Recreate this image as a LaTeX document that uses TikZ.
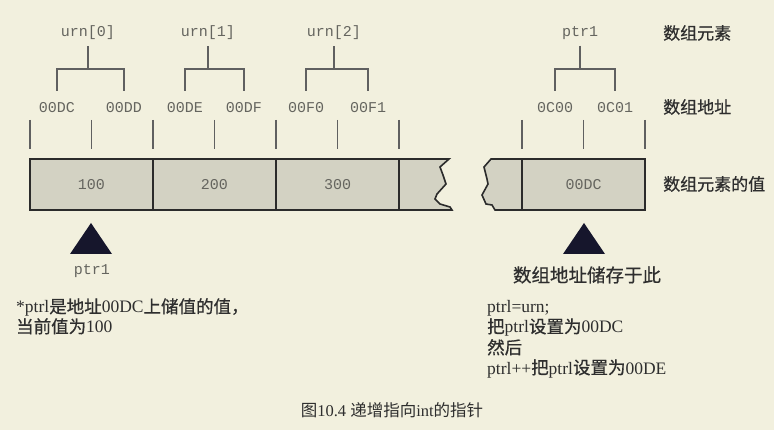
\documentclass[tikz,border=0pt]{standalone}
\usepackage{fontspec}
\setmainfont{Liberation Serif}
\setmonofont{Liberation Mono}
\newfontfamily\cjk[FakeBold=0.6]{Noto Sans CJK SC}
\newfontfamily\cjklight{Noto Sans CJK SC}
\usepackage{tikz}
\usetikzlibrary{calc}

\definecolor{paper}{HTML}{F2F0DE}
\definecolor{cellfill}{HTML}{D3D2C3}
\definecolor{edge}{HTML}{2B2B2B}
\definecolor{bracket}{HTML}{606060}
\definecolor{labeltext}{HTML}{65655F}
\definecolor{notetext}{HTML}{2E2E2E}
\definecolor{marker}{HTML}{16162C}
\newcommand{\zh}[1]{{\cjk #1}}

\tikzset{
  mono/.style={font=\fontsize{15}{15}\selectfont\ttfamily, text=labeltext, inner sep=0pt},
  side/.style={font=\fontsize{17}{17}\selectfont\cjk, text=notetext, inner sep=0pt, anchor=west},
  note/.style={font=\fontsize{17.5}{20}\selectfont, text=notetext, inner sep=0pt, anchor=base west},
  cell/.style={draw=edge, fill=cellfill, line width=1.6pt, minimum width=123pt,
    minimum height=51pt, inner sep=0pt, font=\fontsize{15}{15}\selectfont\ttfamily, text=labeltext},
  brace/.style={draw=bracket, line width=1.3pt},
  tick/.style={draw=bracket, line width=1.3pt},
}

\begin{document}
\begin{tikzpicture}[x=1pt, y=-1pt]
\fill [paper] (0, 0) rectangle (774, 430);
\useasboundingbox (0, 0) rectangle (774, 430);

% element names
\node [mono] (u0) at (88, 33) {urn[0]};
\node [mono] (u1) at (208, 33) {urn[1]};
\node [mono] (u2) at (334, 33) {urn[2]};
\node [mono] (p) at (580, 33) {ptr1};

% addresses
\node [mono] (a0) at (57, 108) {00DC};
\node [mono] (a1) at (124, 108) {00DD};
\node [mono] (a2) at (185, 108) {00DE};
\node [mono] (a3) at (244, 108) {00DF};
\node [mono] (a4) at (306, 108) {00F0};
\node [mono] (a5) at (368, 108) {00F1};
\node [mono] (a6) at (555, 108) {0C00};
\node [mono] (a7) at (615, 108) {0C01};

% bracket joints
\coordinate (j0) at (88, 69);
\coordinate (j1) at (208, 69);
\coordinate (j2) at (334, 69);
\coordinate (j3) at (580, 69);

\draw [brace, shorten <=6pt] (u0.south) -- (j0);
\draw [brace, shorten <=6pt] (u1.south) -- (j1);
\draw [brace, shorten <=6pt] (u2.south) -- (j2);
\draw [brace, shorten <=6pt] (p.south) -- (j3);
\draw [brace] ([yshift=12pt]a0.north) |- (j0) -| ([yshift=12pt]a1.north);
\draw [brace] ([yshift=12pt]a2.north) |- (j1) -| ([yshift=12pt]a3.north);
\draw [brace] ([yshift=12pt]a4.north) |- (j2) -| ([yshift=12pt]a5.north);
\draw [brace] ([yshift=12pt]a6.north) |- (j3) -| ([yshift=12pt]a7.north);

% byte ticks
\foreach \x in {30, 91.5, 153, 214.5, 276, 337.5, 399, 522, 583.5, 645}
  \draw [tick] (\x, 120) -- (\x, 149);

% broken ends
\filldraw [fill=cellfill, draw=edge, line width=1.6pt, line join=miter]
  (399, 159) -- (449, 159) -- (440, 167) -- (443, 175) -- (446, 184)
  -- (437, 194) -- (435, 199) -- (440, 204) -- (450, 207) -- (452, 210)
  -- (399, 210) -- cycle;
\filldraw [fill=cellfill, draw=edge, line width=1.6pt, line join=miter]
  (522, 159) -- (491, 159) -- (484, 167) -- (487, 179) -- (488, 184)
  -- (482, 195) -- (486, 204) -- (492, 205) -- (495, 210)
  -- (522, 210) -- cycle;

% values
\node [cell] (v0) at (91.5, 184.5) {100};
\node [cell] (v1) at (214.5, 184.5) {200};
\node [cell] (v2) at (337.5, 184.5) {300};
\node [cell] (v3) at (583.5, 184.5) {00DC};

% row names
\node [side] (r0) at (663, 33) {数组元素};
\node [side] (r1) at (663, 107) {数组地址};
\node [side] (r2) at (663, 184) {数组元素的值};

% pointers
\fill [marker] (91, 223) -- (112, 254) -- (70, 254) -- cycle;
\fill [marker] (584, 223) -- (605, 254) -- (563, 254) -- cycle;
\node [mono] (pl) at (92, 271) {ptr1};
\node [font=\fontsize{18.5}{19}\selectfont\cjk, text=notetext, inner sep=0pt] (pr) at (587, 275) {数组地址储存于此};

% notes
\node [note] (n0) at (16, 313) {*ptrl\zh{是地址}00DC\zh{上储值的值，}};
\node [note] (n1) at (16, 333) {\zh{当前值为}100};
\node [note] (m0) at (487, 313) {ptrl=urn;};
\node [note] (m1) at (487, 333) {\zh{把}ptrl\zh{设置为}00DC};
\node [note] (m2) at (487, 354) {\zh{然后}};
\node [note] (m3) at (487, 374) {ptrl++\zh{把}ptrl\zh{设置为}00DE};

% caption
\node [font=\fontsize{16.5}{16.5}\selectfont, text=notetext, inner sep=0pt] (cap) at (392, 410)
  {{\cjklight 图}10.4 {\cjklight 递增指向}int{\cjklight 的指针}};
\end{tikzpicture}
\end{document}
